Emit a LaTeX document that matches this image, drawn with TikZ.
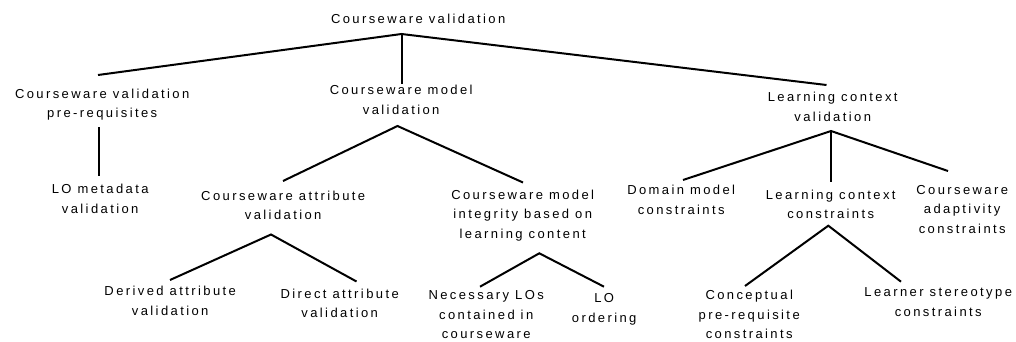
\documentclass[tikz,border=0pt]{standalone}
\usepackage{fontspec}
\setmainfont{Liberation Sans}[LetterSpace=18.5]
\begin{document}
\begin{tikzpicture}[x=1pt,y=-1pt,
  lbl/.style={anchor=north, inner sep=0pt, align=center,
              font=\fontsize{13}{19.5}\selectfont, xshift=1.2pt},
  branch/.style={line width=2pt, line join=miter}]
\useasboundingbox (0,0) rectangle (1016,342);

% --- labels -------------------------------------------------------
\node[lbl] (root) at (417,13.5)  {Courseware validation};
\node[lbl] (cvp)  at (101,88.5)  {Courseware validation\\pre-requisites};
\node[lbl] (cmv)  at (400,85)    {Courseware model\\validation};
\node[lbl] (lcv)  at (831.5,92)  {Learning context\\validation};
\node[lbl] (lom)  at (99,184)    {LO metadata\\validation};
\node[lbl] (cav)  at (282,190.5) {Courseware attribute\\validation};
\node[lbl] (cmi)  at (521.5,189.5) {Courseware model\\integrity based on\\learning content};
\node[lbl] (dmc)  at (680,185)   {Domain model\\constraints};
\node[lbl] (lcc)  at (829.5,189.5) {Learning context\\constraints};
\node[lbl] (cac)  at (961,185)   {Courseware\\adaptivity\\constraints};
\node[lbl] (dav)  at (169,286)   {Derived attribute\\validation};
\node[lbl] (drv)  at (338.5,288.5) {Direct attribute\\validation};
\node[lbl] (nlo)  at (485,290.5) {Necessary LOs\\contained in\\courseware};
\node[lbl] (loo)  at (603,293.5) {LO\\ordering};
\node[lbl] (cpc)  at (748,290)   {Conceptual\\pre-requisite\\constraints};
\node[lbl] (lsc)  at (937,287.5) {Learner stereotype\\constraints};

% --- branch points and branch ends -------------------------------
\coordinate (root-j) at (401.5,34);
\coordinate (cvp-t)  at (98,75);
\coordinate (cmv-t)  at (401.5,84);
\coordinate (lcv-t)  at (826.5,85);

\coordinate (cvp-j)  at (99,127);
\coordinate (lom-t)  at (99,176);

\coordinate (cmv-j)  at (397.5,126);
\coordinate (cav-t)  at (283,181);
\coordinate (cmi-t)  at (523,182.5);

\coordinate (lcv-j)  at (831,131);
\coordinate (dmc-t)  at (683,180);
\coordinate (lcc-t)  at (831,181.5);
\coordinate (cac-t)  at (948,171);

\coordinate (cav-j)  at (271,234.5);
\coordinate (dav-t)  at (170,280);
\coordinate (drv-t)  at (356.5,281.5);

\coordinate (cmi-j)  at (539.3,253.3);
\coordinate (nlo-t)  at (480,286.7);
\coordinate (loo-t)  at (604,286.7);

\coordinate (lcc-j)  at (828.3,225.7);
\coordinate (cpc-t)  at (745,286);
\coordinate (lsc-t)  at (901,281.7);

% --- tree branches ------------------------------------------------
\draw[branch] (cvp-t) -- (root-j) -- (lcv-t);
\draw[branch] (root-j) -- (cmv-t);
\draw[branch] (cvp-j) -- (lom-t);
\draw[branch] (cav-t) -- (cmv-j) -- (cmi-t);
\draw[branch] (dmc-t) -- (lcv-j) -- (cac-t);
\draw[branch] (lcv-j) -- (lcc-t);
\draw[branch] (dav-t) -- (cav-j) -- (drv-t);
\draw[branch] (nlo-t) -- (cmi-j) -- (loo-t);
\draw[branch] (cpc-t) -- (lcc-j) -- (lsc-t);
\end{tikzpicture}
\end{document}
